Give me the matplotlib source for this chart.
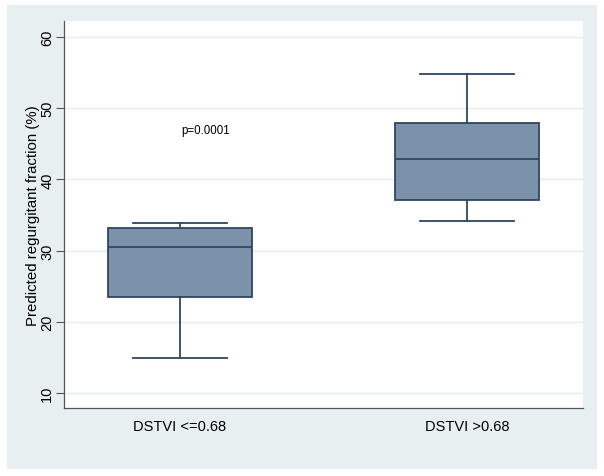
import matplotlib.pyplot as plt
from matplotlib.patches import Rectangle

# Data
groups = ['DSTVI <=0.68', 'DSTVI >0.68']
whislo = [14.9, 34.2]
q1 = [23.5, 37.1]
med = [30.5, 42.9]
q3 = [33.2, 47.9]
whishi = [33.9, 54.8]
yticks = [10, 20, 30, 40, 50, 60]
p_text = 'p=0.0001'

stats = [dict(label=g, whislo=lo, q1=a, med=m, q3=b, whishi=hi)
         for g, lo, a, m, b, hi in zip(groups, whislo, q1, med, q3, whishi)]

plt.rcParams['font.family'] = ['Liberation Sans', 'DejaVu Sans']

# Layout
fig = plt.figure(figsize=(6.04, 4.77), dpi=100)
fig.patch.set_facecolor('white')
fig.add_artist(Rectangle((7/604, 7/477), 590/604, 464/477, transform=fig.transFigure,
                         facecolor='#E8EFF1', edgecolor='none', zorder=0))
ax = fig.add_axes([64/604, 68/477, 519/604, 387/477])
ax.set_facecolor('white')

edge = '#2F4562'
ax.bxp(stats, positions=[1, 2], widths=0.5, capwidths=0.33, patch_artist=True,
       showfliers=False,
       boxprops=dict(facecolor='#7C91AA', edgecolor=edge, linewidth=1.3),
       medianprops=dict(color=edge, linewidth=1.3),
       whiskerprops=dict(color=edge, linewidth=1.3),
       capprops=dict(color=edge, linewidth=1.3))

ax.text(1.09, 46.9, p_text, ha='center', va='center', fontsize=8.3)

# Details
ax.set_xlim(0.596, 2.404)
ax.set_ylim(7.9, 62.25)
ax.set_yticks(yticks)
ax.set_yticklabels([str(t) for t in yticks], rotation=90, va='center', fontsize=10.5)
ax.set_xticks([1, 2])
ax.set_xticklabels(groups, fontsize=10.5)
ax.tick_params(axis='x', length=0, pad=8)
ax.tick_params(axis='y', length=6, width=0.8, color='#555555', pad=1)
ax.yaxis.grid(True, color='#E4ECEE', linewidth=1.0)
ax.set_axisbelow(True)
ax.set_ylabel('Predicted regurgitant fraction (%)', fontsize=10.8, labelpad=0)

for s in ['top', 'right']:
    ax.spines[s].set_visible(False)
for s in ['left', 'bottom']:
    ax.spines[s].set_color('#555555')
    ax.spines[s].set_linewidth(0.9)

# Output
fig.savefig('out.png', dpi=100)
